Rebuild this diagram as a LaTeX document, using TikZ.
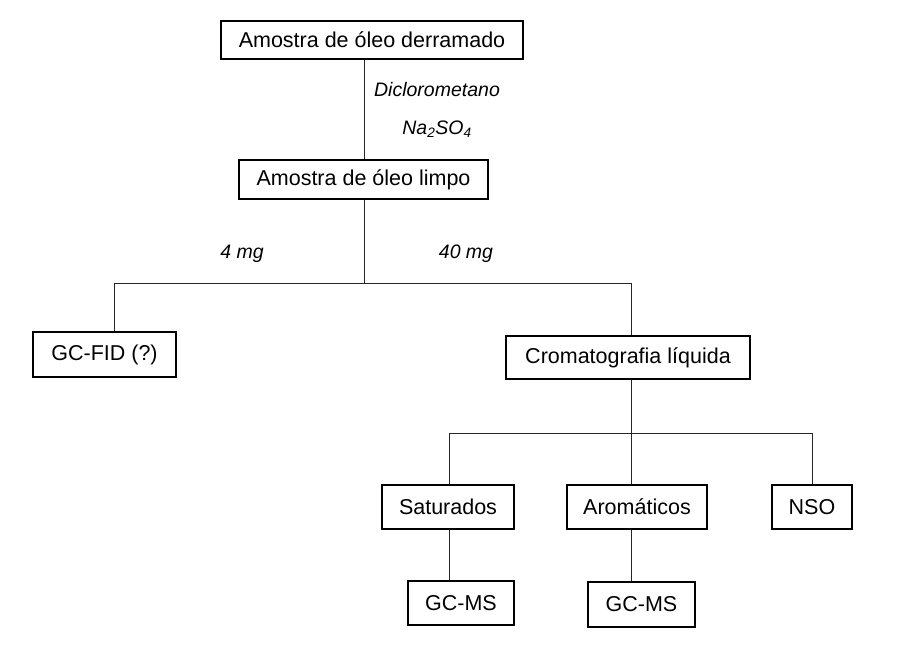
\documentclass[tikz,border=0pt]{standalone}
\usepackage{fontspec}
\setmainfont{Liberation Sans}
\begin{document}
\begin{tikzpicture}[x=1pt,y=1pt,
  box/.style={draw=black,line width=2pt,inner sep=0pt,font=\fontsize{21.5}{24}\selectfont},
  conn/.style={draw=black!85,line width=0.9pt},
  lbl/.style={font=\fontsize{19.5}{22}\selectfont\itshape,anchor=base,inner sep=0pt}]
\useasboundingbox (0,0) rectangle (912,-651);
\fill[white] (0,0) rectangle (912,-651);
% boxes
\node[box,minimum width=302pt,minimum height=38pt] (b1) at (372,-40) {Amostra de óleo derramado};
\node[box,minimum width=249pt,minimum height=39pt] (b2) at (363.5,-179.5) {Amostra de óleo limpo};
\node[box,minimum width=143pt,minimum height=45pt] (fid) at (104.5,-354.5) {GC-FID (?)};
\node[box,minimum width=244pt,minimum height=43pt] (crom) at (628,-357.5) {Cromatografia líquida};
\node[box,minimum width=132pt,minimum height=44pt] (sat) at (448,-507) {Saturados};
\node[box,minimum width=140pt,minimum height=44pt] (aro) at (637,-507) {Aromáticos};
\node[box,minimum width=80pt,minimum height=44pt] (nso) at (812,-507) {NSO};
\node[box,minimum width=106pt,minimum height=44pt] (ms1) at (461,-603) {GC-MS};
\node[box,minimum width=107pt,minimum height=45pt] (ms2) at (641.5,-604.5) {GC-MS};
% labels
\node[lbl] (t1) at (437,-96.5) {Diclorometano};
\node[lbl] (t2) at (437,-134.5) {Na\textsubscript{2}SO\textsubscript{4}};
\node[lbl] (t3) at (242,-258) {4 mg};
\node[lbl] (t4) at (466,-258) {40 mg};
% junction coordinates
\coordinate (j1) at (364,-283);
\coordinate (jl) at (114,-283);
\coordinate (jr) at (631,-283);
\coordinate (j2) at (631,-433);
\coordinate (js) at (449,-433);
\coordinate (jn) at (812,-433);
% connectors
\draw[conn] (j1 |- b1.south) -- (j1 |- b2.north);
\draw[conn] (j1 |- b2.south) -- (j1);
\draw[conn] (jl) -- (jr);
\draw[conn] (jl) -- (jl |- fid.north);
\draw[conn] (jr) -- (jr |- crom.north);
\draw[conn] (j2 |- crom.south) -- (j2);
\draw[conn] (js) -- (jn);
\draw[conn] (js) -- (js |- sat.north);
\draw[conn] (j2) -- (j2 |- aro.north);
\draw[conn] (jn) -- (jn |- nso.north);
\draw[conn] (js |- sat.south) -- (js |- ms1.north);
\draw[conn] (j2 |- aro.south) -- (j2 |- ms2.north);
\end{tikzpicture}
\end{document}
